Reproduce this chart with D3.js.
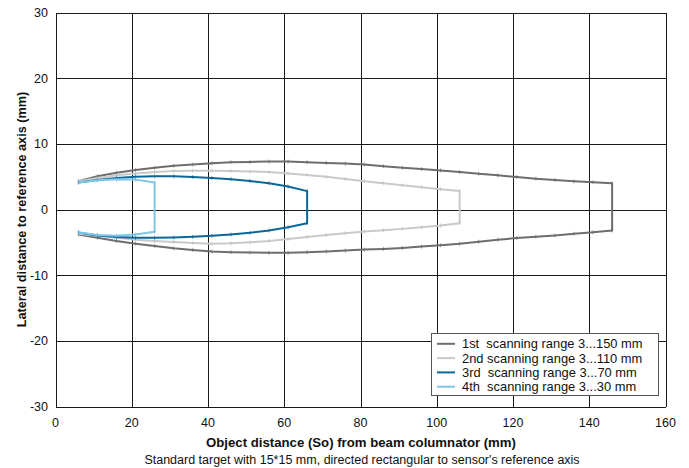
<!DOCTYPE html>
<html>
<head>
<meta charset="utf-8">
<script src="https://cdn.jsdelivr.net/npm/d3@7"></script>
<style>
  html, body { margin: 0; padding: 0; background: #fff; }
  svg { display: block; font-family: "Liberation Sans", Arial, sans-serif; }
</style>
</head>
<body>
<svg id="chart" width="689" height="468"></svg>
<script>
// ---- data ----
const xTicks = [0, 20, 40, 60, 80, 100, 120, 140, 160];
const yTicks = [-30, -20, -10, 0, 10, 20, 30];

const seriesNames = [
  "1st  scanning range 3...150 mm",
  "2nd scanning range 3...110 mm",
  "3rd  scanning range 3...70 mm",
  "4th  scanning range 3...30 mm"
];

const x1 = [6, 11, 16, 21, 26, 31, 36, 41, 46, 51, 56, 61, 66, 71, 76, 81, 86, 91, 96, 101, 106, 111, 116, 121, 126, 131, 136, 141, 146];
const upper1 = [4.3, 5.05, 5.6, 6.0, 6.35, 6.65, 6.85, 7.05, 7.2, 7.25, 7.3, 7.3, 7.2, 7.1, 7.0, 6.85, 6.6, 6.35, 6.15, 5.95, 5.7, 5.45, 5.2, 4.95, 4.7, 4.5, 4.3, 4.15, 4.0];
const lower1 = [-3.8, -4.3, -4.8, -5.2, -5.55, -5.9, -6.15, -6.4, -6.5, -6.55, -6.6, -6.6, -6.5, -6.4, -6.25, -6.1, -6.0, -5.85, -5.65, -5.45, -5.2, -4.9, -4.6, -4.35, -4.15, -3.95, -3.7, -3.45, -3.2];

const x2 = [6, 11, 16, 21, 26, 31, 36, 41, 46, 51, 56, 61, 66, 71, 76, 81, 86, 91, 96, 101, 106];
const upper2 = [4.3, 4.8, 5.2, 5.5, 5.7, 5.85, 5.9, 5.9, 5.85, 5.8, 5.7, 5.5, 5.25, 5.0, 4.65, 4.3, 4.0, 3.7, 3.4, 3.1, 2.8];
const lower2 = [-3.7, -4.0, -4.3, -4.6, -4.8, -4.95, -5.1, -5.2, -5.15, -5.0, -4.8, -4.5, -4.2, -3.9, -3.6, -3.35, -3.15, -2.95, -2.7, -2.45, -2.1];

const x3 = [6, 11, 16, 21, 26, 31, 36, 41, 46, 51, 56, 61, 66];
const upper3 = [4.1, 4.5, 4.8, 5.0, 5.05, 5.05, 4.95, 4.8, 4.6, 4.35, 4.0, 3.5, 2.8];
const lower3 = [-3.5, -3.95, -4.2, -4.3, -4.3, -4.25, -4.15, -4.0, -3.8, -3.55, -3.2, -2.7, -2.1];

const x4 = [6, 11, 16, 21, 26];
const upper4 = [4.1, 4.45, 4.6, 4.55, 4.1];
const lower4 = [-3.5, -3.9, -4.0, -3.8, -3.4];

const colors = ["#6d6d6d", "#c9c9c9", "#0b6797", "#7cc6ea"];

// ---- layout ----
const svg = d3.select("#chart");
const pLeft = 55.5, pRight = 665.5, pTop = 12.5, pBottom = 406.5;

const x = d3.scaleLinear().domain([0, 160]).range([pLeft, pRight]);
const y = d3.scaleLinear().domain([-30, 30]).range([pBottom, pTop]);

// grid
const grid = svg.append("g").attr("shape-rendering", "crispEdges");
grid.selectAll(".vx").data(xTicks).join("line")
  .attr("x1", d => Math.round(x(d)) + 0.5).attr("x2", d => Math.round(x(d)) + 0.5)
  .attr("y1", pTop).attr("y2", pBottom)
  .attr("stroke", "#1a1a1a").attr("stroke-width", 1);
grid.selectAll(".hy").data(yTicks).join("line")
  .attr("x1", pLeft).attr("x2", pRight)
  .attr("y1", d => Math.round(y(d)) + 0.5).attr("y2", d => Math.round(y(d)) + 0.5)
  .attr("stroke", "#1a1a1a").attr("stroke-width", 1);

// axes labels (tick text)
svg.append("g").selectAll("text").data(xTicks).join("text")
  .attr("x", d => x(d)).attr("y", 427)
  .attr("text-anchor", "middle").attr("font-size", 12.5).attr("fill", "#111")
  .text(d => d);
svg.append("g").selectAll("text").data(yTicks).join("text")
  .attr("x", 48).attr("y", d => y(d) + 4.5)
  .attr("text-anchor", "end").attr("font-size", 12.5).attr("fill", "#111")
  .text(d => d);

// curves
const series = [
  { xs: x1, up: upper1, lo: lower1 },
  { xs: x2, up: upper2, lo: lower2 },
  { xs: x3, up: upper3, lo: lower3 },
  { xs: x4, up: upper4, lo: lower4 }
];
const line = d3.line().x(d => x(d[0])).y(d => y(d[1]));

series.forEach((s, i) => {
  const pts = s.xs.map((xv, k) => [xv, s.up[k]])
    .concat(s.xs.map((xv, k) => [xv, s.lo[k]]).reverse());
  const g = svg.append("g");
  g.append("path").attr("d", line(pts))
    .attr("fill", "none").attr("stroke", colors[i]).attr("stroke-width", 2)
    .attr("stroke-linejoin", "round");
  g.selectAll("line").data(pts).join("line")
    .attr("x1", d => x(d[0])).attr("x2", d => x(d[0]))
    .attr("y1", d => y(d[1]) - 2).attr("y2", d => y(d[1]) + 2)
    .attr("stroke", d3.color(colors[i]).darker(0.25)).attr("stroke-width", 1)
    .attr("opacity", 0.6);
});

// legend
const lg = svg.append("g");
lg.append("rect").attr("x", 431.5).attr("y", 333.5).attr("width", 227).attr("height", 62)
  .attr("fill", "#fff").attr("stroke", "#555").attr("stroke-width", 1);
seriesNames.forEach((name, i) => {
  const yy = 343.8 + i * 14.3;
  lg.append("line").attr("x1", 437).attr("x2", 455).attr("y1", yy).attr("y2", yy)
    .attr("stroke", colors[i]).attr("stroke-width", 2);
  lg.append("text").attr("x", 462).attr("y", yy + 4.6)
    .attr("font-size", 12.9).attr("fill", "#111")
    .style("white-space", "pre").text(name);
});

// titles
svg.append("text").attr("x", 361).attr("y", 447)
  .attr("text-anchor", "middle").attr("font-size", 13.2).attr("font-weight", "bold").attr("fill", "#111")
  .text("Object distance (So) from beam columnator (mm)");
svg.append("text").attr("x", 362).attr("y", 463.5)
  .attr("text-anchor", "middle").attr("font-size", 12.5).attr("fill", "#111")
  .text("Standard target with 15*15 mm, directed rectangular to sensor's reference axis");
svg.append("text").attr("transform", "translate(26," + y(0) + ") rotate(-90)")
  .attr("text-anchor", "middle").attr("font-size", 12.7).attr("font-weight", "bold").attr("fill", "#111")
  .text("Lateral distance to reference axis (mm)");
</script>
</body>
</html>
